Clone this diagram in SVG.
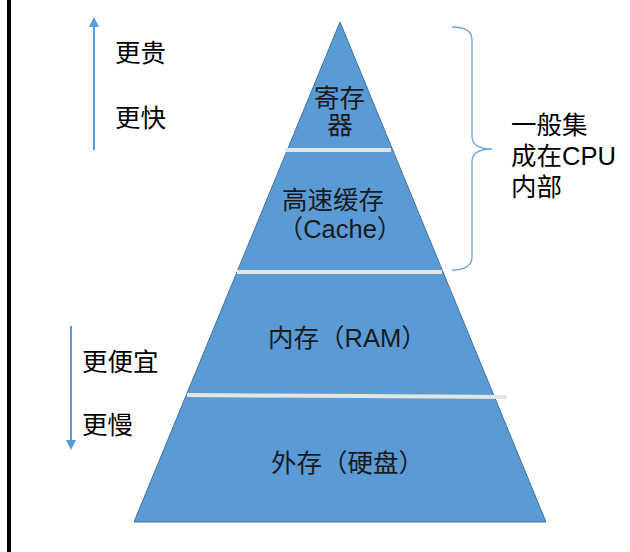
<svg xmlns="http://www.w3.org/2000/svg" width="630" height="552" viewBox="0 0 630 552">
  <style>
    .t { font-family: "Liberation Sans", "Noto Sans CJK SC", sans-serif; font-size: 25.5px; fill: #000; }
    .p { font-family: "Liberation Sans", "Noto Sans CJK SC", sans-serif; font-size: 25.5px; fill: #1a1a1a; }
    .sep { stroke: #E4E4E4; stroke-width: 4; fill: none; }
    .arr { stroke: #5B9BD5; stroke-width: 2; fill: none; }
  </style>
  <defs>
    <marker id="ah" viewBox="0 0 10 10" refX="2" refY="5" markerWidth="5" markerHeight="5" orient="auto" markerUnits="strokeWidth">
      <path d="M0,0 L10,5 L0,10 Z" fill="#5B9BD5"/>
    </marker>
  </defs>
  <rect x="0" y="0" width="630" height="552" fill="#fff"/>
  <rect x="7" y="0" width="4" height="552" fill="#000"/>

  <g id="pyramid">
    <polygon points="340,22 546,522 134,522" fill="#5B9BD5" stroke="#41719C" stroke-width="1"/>
  </g>

  <g id="separators">
    <line class="sep" x1="285" y1="150" x2="391" y2="150"/>
    <line class="sep" x1="237" y1="272" x2="442" y2="272"/>
    <path class="sep" d="M187,395 L360,396 L507,397"/>
  </g>

  <g id="register">
    <text class="p" x="314" y="107">寄存</text>
    <text class="p" x="340" y="134" text-anchor="middle">器</text>
  </g>
  <g id="cache">
    <text class="p" x="282" y="209">高速缓存</text>
    <text class="p" x="340" y="238" text-anchor="middle">（Cache）</text>
  </g>
  <g id="ram">
    <text class="p" x="268" y="347">内存（RAM）</text>
  </g>
  <g id="disk">
    <text class="p" x="271" y="472">外存（硬盘）</text>
  </g>

  <g id="connectors">
    <line class="arr" x1="94" y1="150" x2="94" y2="25" marker-end="url(#ah)"/>
    <line class="arr" x1="71" y1="326" x2="71" y2="442" marker-end="url(#ah)"/>
    <path d="M452,27 Q472,27 472,40 L472,136 Q472,149 492,149 Q472,149 472,162 L472,257 Q472,270 452,270" fill="none" stroke="#6FA3DA" stroke-width="1.3"/>
  </g>

  <g id="up-labels">
    <text class="t" x="115" y="62">更贵</text>
    <text class="t" x="115" y="127">更快</text>
  </g>
  <g id="down-labels">
    <text class="t" x="82" y="371">更便宜</text>
    <text class="t" x="82" y="434">更慢</text>
  </g>
  <g id="cpu-note">
    <text class="t" x="511" y="134">一般集</text>
    <text class="t" x="511" y="165">成在CPU</text>
    <text class="t" x="511" y="196">内部</text>
  </g>
</svg>
